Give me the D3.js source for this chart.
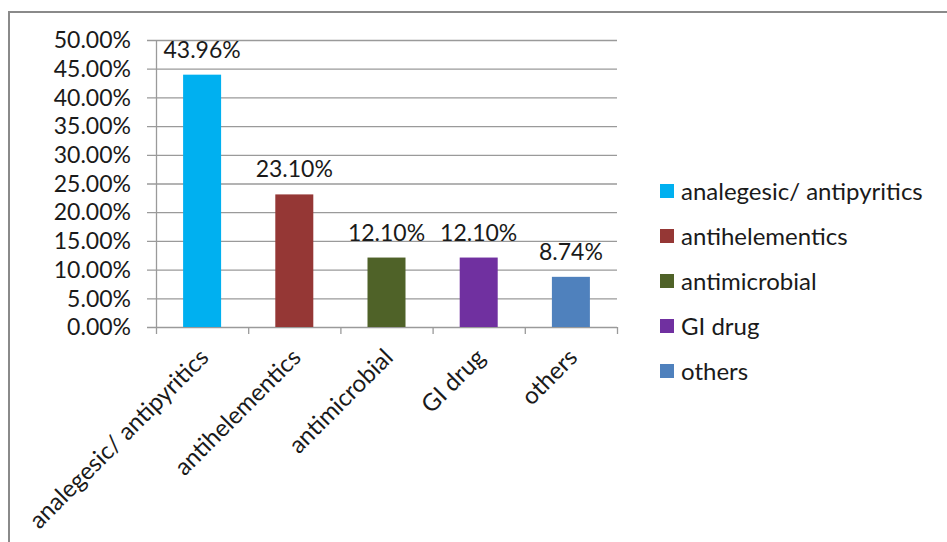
<!DOCTYPE html>
<html>
<head>
<meta charset="utf-8">
<script src="https://cdn.jsdelivr.net/npm/d3@7"></script>
<style>
  body { margin: 0; background: #fff; }
  text { font-family: Lato, "Open Sans", sans-serif; fill: #1a1a1a; }
</style>
</head>
<body>
<script>
var width = 947;
var height = 542;

// data
var categories = ["analegesic/ antipyritics", "antihelementics", "antimicrobial", "GI drug", "others"];
var values = [43.96, 23.10, 12.10, 12.10, 8.74];
var colors = ["#00B0F0", "#953735", "#4F6228", "#7030A0", "#4F81BD"];
var yTicks = [0, 5, 10, 15, 20, 25, 30, 35, 40, 45, 50];

var svg = d3.select("body").append("svg")
  .attr("width", width)
  .attr("height", height);

// chart frame
svg.append("rect")
  .attr("x", 9).attr("y", 12)
  .attr("width", 950).attr("height", 560)
  .attr("fill", "none")
  .attr("stroke", "#8a8a8a")
  .attr("stroke-width", 2);

var plot = { left: 156, right: 617, top: 40, bottom: 327 };

var x = d3.scaleBand()
  .domain(categories)
  .range([plot.left, plot.right])
  .paddingInner(0)
  .paddingOuter(0);

var y = d3.scaleLinear()
  .domain([0, 50])
  .range([plot.bottom, plot.top]);

// gridlines + y ticks
svg.append("g")
  .selectAll("line")
  .data(yTicks)
  .enter()
  .append("line")
  .attr("x1", plot.left - 9)
  .attr("x2", plot.right)
  .attr("y1", function (d) { return y(d) + 0.5; })
  .attr("y2", function (d) { return y(d) + 0.5; })
  .attr("stroke", "#9a9a9a")
  .attr("stroke-width", 1.3);

svg.append("g")
  .selectAll("text")
  .data(yTicks)
  .enter()
  .append("text")
  .attr("x", 131)
  .attr("y", function (d) { return y(d); })
  .attr("dy", "0.36em")
  .attr("text-anchor", "end")
  .style("font-size", "23px")
  .text(function (d) { return d.toFixed(2) + "%"; });

// y axis line
svg.append("line")
  .attr("x1", plot.left + 0.5).attr("x2", plot.left + 0.5)
  .attr("y1", plot.top).attr("y2", plot.bottom + 7)
  .attr("stroke", "#9a9a9a")
  .attr("stroke-width", 1.3);

// category tick marks
var bounds = categories.map(function (c) { return x(c); }).concat([plot.right]);
svg.append("g")
  .selectAll("line")
  .data(bounds.slice(1))
  .enter()
  .append("line")
  .attr("x1", function (d) { return d + 0.5; })
  .attr("x2", function (d) { return d + 0.5; })
  .attr("y1", plot.bottom)
  .attr("y2", plot.bottom + 7)
  .attr("stroke", "#9a9a9a")
  .attr("stroke-width", 1.3);

// bars
var barW = 38;
svg.append("g")
  .selectAll("rect")
  .data(values)
  .enter()
  .append("rect")
  .attr("x", function (d, i) { return x(categories[i]) + x.bandwidth() / 2 - barW / 2; })
  .attr("y", function (d) { return y(d); })
  .attr("width", barW)
  .attr("height", function (d) { return y(0) - y(d); })
  .attr("fill", function (d, i) { return colors[i]; });

// value labels
svg.append("g")
  .selectAll("text")
  .data(values)
  .enter()
  .append("text")
  .attr("x", function (d, i) { return x(categories[i]) + x.bandwidth() / 2; })
  .attr("y", function (d) { return y(d) - 17; })
  .attr("text-anchor", "middle")
  .style("font-size", "23px")
  .text(function (d) { return d.toFixed(2) + "%"; });

// rotated category labels
svg.append("g")
  .selectAll("text")
  .data(categories)
  .enter()
  .append("text")
  .attr("transform", function (d) {
    return "translate(" + (x(d) + x.bandwidth() / 2 + 8) + "," + (plot.bottom + 32) + ") rotate(-45)";
  })
  .attr("text-anchor", "end")
  .style("font-size", "24px")
  .text(function (d) { return d; });

// legend
var legend = svg.append("g")
  .selectAll("g")
  .data(categories)
  .enter()
  .append("g")
  .attr("transform", function (d, i) { return "translate(660," + (191 + i * 45) + ")"; });

legend.append("rect")
  .attr("x", 0).attr("y", -7)
  .attr("width", 14).attr("height", 14)
  .attr("fill", function (d, i) { return colors[i]; });

legend.append("text")
  .attr("x", 21)
  .attr("y", 0)
  .attr("dy", "0.36em")
  .style("font-size", "24px")
  .text(function (d) { return d; });
</script>
</body>
</html>
